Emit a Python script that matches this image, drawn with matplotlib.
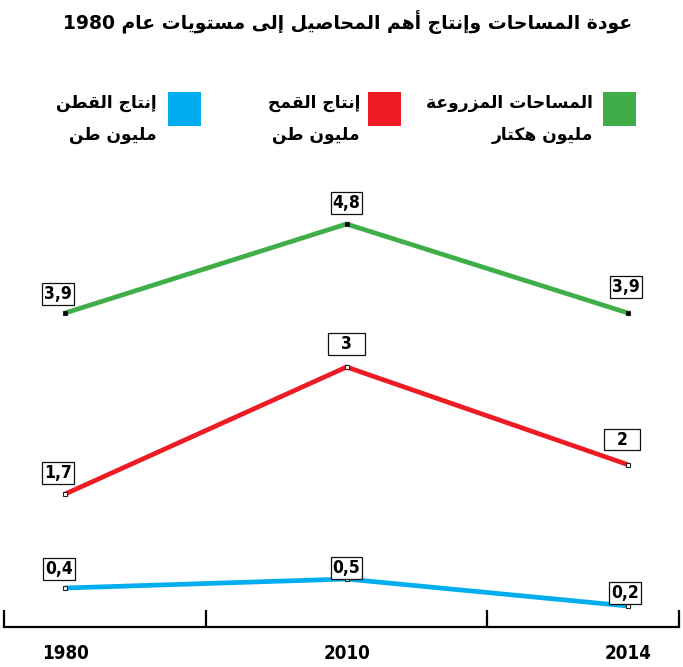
import re
import matplotlib
matplotlib.use('Agg')
import matplotlib.pyplot as plt
from matplotlib.patches import Rectangle

# ---------------- data ----------------
years = ['1980', '2010', '2014']
area = [3.9, 4.8, 3.9]          # المساحات المزروعة (مليون هكتار)
wheat = [1.7, 3.0, 2.0]         # إنتاج القمح (مليون طن)
cotton = [0.4, 0.5, 0.2]        # إنتاج القطن (مليون طن)

title_text = "عودة المساحات وإنتاج أهم المحاصيل إلى مستويات عام 1980"
series_names = ["المساحات المزروعة", "إنتاج القمح", "إنتاج القطن"]
series_units = ["مليون هكتار", "مليون طن", "مليون طن"]
colors = ['#3fae49', '#ed1c24', '#00aeef']

# ---------------- arabic shaping (matplotlib has no RTL shaping) ----------------
DUAL = {'ب': 0xFE8F, 'ت': 0xFE95, 'ث': 0xFE99, 'ج': 0xFE9D, 'ح': 0xFEA1, 'خ': 0xFEA5,
        'س': 0xFEB1, 'ش': 0xFEB5, 'ص': 0xFEB9, 'ض': 0xFEBD, 'ط': 0xFEC1, 'ظ': 0xFEC5,
        'ع': 0xFEC9, 'غ': 0xFECD, 'ف': 0xFED1, 'ق': 0xFED5, 'ك': 0xFED9, 'ل': 0xFEDD,
        'م': 0xFEE1, 'ن': 0xFEE5, 'ه': 0xFEE9, 'ي': 0xFEF1, 'ئ': 0xFE89}
RIGHT = {'ا': 0xFE8D, 'أ': 0xFE83, 'إ': 0xFE87, 'آ': 0xFE81, 'ة': 0xFE93, 'د': 0xFEA9,
         'ذ': 0xFEAB, 'ر': 0xFEAD, 'ز': 0xFEAF, 'و': 0xFEED, 'ى': 0xFEEF, 'ؤ': 0xFE85}
LAMALEF = {'ا': 0xFEFB, 'أ': 0xFEF7, 'إ': 0xFEF9, 'آ': 0xFEF5}


def shape(s):
    toks = []
    i = 0
    while i < len(s):
        c = s[i]
        if c == 'ل' and i + 1 < len(s) and s[i + 1] in LAMALEF:
            toks.append(('LA', s[i + 1]))
            i += 2
        else:
            toks.append(('C', c))
            i += 1

    def joins_next(t):
        return t[0] == 'C' and t[1] in DUAL

    def joining(t):
        return t[0] == 'LA' or t[1] in DUAL or t[1] in RIGHT

    res = []
    for k, t in enumerate(toks):
        prev = toks[k - 1] if k > 0 else None
        nxt = toks[k + 1] if k + 1 < len(toks) else None
        cp = prev is not None and joins_next(prev) and joining(t)
        cn = nxt is not None and joins_next(t) and joining(nxt)
        kind, c = t
        if kind == 'LA':
            res.append(chr(LAMALEF[c] + (1 if cp else 0)))
        elif c in DUAL:
            res.append(chr(DUAL[c] + (3 if (cp and cn) else 1 if cp else 2 if cn else 0)))
        elif c in RIGHT:
            res.append(chr(RIGHT[c] + (1 if cp else 0)))
        else:
            res.append(c)
    vis = ''.join(reversed(res))
    vis = re.sub(r'[0-9]+', lambda m: m.group(0)[::-1], vis)
    return vis


AR_FONT = ['DejaVu Sans']
NUM_FONT = ['DejaVu Sans']

# ---------------- figure ----------------
W, H = 683, 667
fig = plt.figure(figsize=(W / 100, H / 100), dpi=100)


def fx(px):
    return px / W


def fy(py):
    return 1 - py / H


# plot area: x from 4px to 679px, y from 180px to 627px (baseline)
left, right_px, top_px, base_px = 4, 679, 180, 627
rect = [fx(left), fy(base_px), fx(right_px - left), (base_px - top_px) / H]
xlim = (-0.217, 2.181)
ylims = [(0.725, 5.245), (0.339, 4.914), (-0.033, 4.933)]

series = [area, wheat, cotton]
offsets = [[(-7, 19), (0, 21), (-2, 26)],
           [(-7, 21), (0, 23), (-6, 25)],
           [(-6, 19), (0, 11), (-3, 13)]]
marker_faces = ['black', 'white', 'white']

xs = list(range(len(years)))
axes = []
for k in range(3):
    ax = fig.add_axes(rect, label=f's{k}')
    ax.set_xlim(*xlim)
    ax.set_ylim(*ylims[k])
    ax.patch.set_visible(False)
    for sp in ax.spines.values():
        sp.set_visible(False)
    ax.set_yticks([])
    ax.set_xticks([])
    vals = series[k]
    ax.plot(xs, vals, color=colors[k], lw=3.4, solid_capstyle='butt', zorder=2)
    ax.plot(xs, vals, ls='none', marker='s', ms=3.2, mfc=marker_faces[k],
            mec='#222222', mew=0.8, zorder=3)
    for x, v, off in zip(xs, vals, offsets[k]):
        lab = f"{v:g}".replace('.', ',')
        if len(lab) == 1:
            lab = '  ' + lab + '  '
        ax.annotate(lab, xy=(x, v), xytext=off, textcoords='offset pixels',
                    ha='center', va='center', fontsize=12.5, fontweight='bold',
                    fontstretch='condensed', family=NUM_FONT, zorder=5,
                    bbox=dict(boxstyle='square,pad=0.1', fc='white', ec='#111111', lw=0.9))
    axes.append(ax)

# baseline axis with ticks
bax = axes[0]
bax.spines['bottom'].set_visible(True)
bax.spines['bottom'].set_linewidth(1.6)
bax.set_xticks(xs)
bax.set_xticklabels(years, fontsize=13.5, fontweight='bold', family=NUM_FONT,
                    fontstretch='condensed')
bax.tick_params(axis='x', which='major', length=0, pad=12)
bax.set_xticks([xlim[0], 0.5, 1.5, xlim[1]], minor=True)
bax.tick_params(axis='x', which='minor', direction='in', length=12, width=1.6, color='black')

# title
fig.text(fx(348), fy(22), shape(title_text), ha='center', va='center',
         fontsize=13.5, fontweight='bold', family=AR_FONT)

# legend (manual, right-to-left)
sq_left = [603, 368, 168]
txt_right = [593, 360, 157]
for k in range(3):
    fig.patches.append(Rectangle((fx(sq_left[k]), fy(126)), fx(33), 34 / H,
                                 transform=fig.transFigure, fc=colors[k], ec='none'))
    fig.text(fx(txt_right[k]), fy(103), shape(series_names[k]), ha='right', va='center',
             fontsize=12.3, fontweight='bold', family=AR_FONT)
    fig.text(fx(txt_right[k]), fy(135), shape(series_units[k]), ha='right', va='center',
             fontsize=12.3, fontweight='bold', family=AR_FONT)

fig.savefig('out.png', dpi=100)
